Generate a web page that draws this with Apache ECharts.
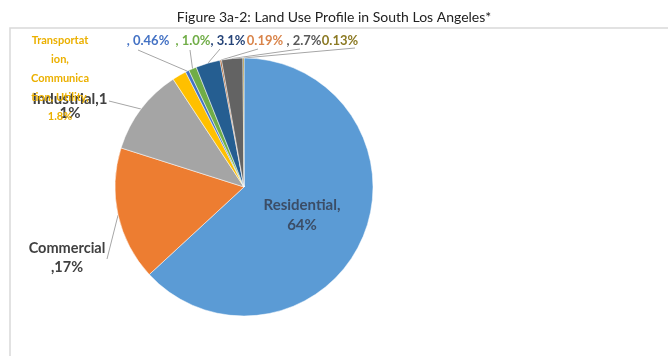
<!DOCTYPE html>
<html>
<head>
<meta charset="utf-8">
<script src="https://cdn.jsdelivr.net/npm/echarts@6/dist/echarts.min.js"></script>
<style>
  html, body { margin: 0; padding: 0; background: #fff; }
  #landUseDiv { width: 668px; height: 356px; }
</style>
</head>
<body>
<div id="landUseDiv"></div>
<script>
// land use shares, clockwise from 12 o'clock
const categories = ["Residential", "Commercial", "Industrial", "Transportation, Communication, Utility",
    "Other 1", "Other 2", "Other 3", "Other 4", "Other 5", "Other 6"];
const shares = [64, 17, 11, 1.8, 0.46, 1.0, 3.1, 0.19, 2.7, 0.13];
const labelTexts = ["Residential,\n64%", "Commercial\n,17%", "Industrial,1\n1%",
    "Transportat\nion,\nCommunica\ntion, Utility,\n1.8%",
    ", 0.46%", ", 1.0%", ", 3.1%", "0.19%", ", 2.7%", "0.13%"];

const sliceColors = ["#5B9BD5", "#ED7D31", "#A5A5A5", "#FFC000", "#4472C4",
    "#70AD47", "#255E91", "#9E480E", "#636363", "#997300"];
const textColors = ["#3b4d66", "#404040", "#404040", "#EBB000", "#4472C4",
    "#70AD47", "#264478", "#D9844A", "#595959", "#8C7A24"];
// label look and placement (centre of text, and where its leader starts)
const labelSize = [15, 14.5, 15, 11, 13, 13, 13, 13, 13, 13];
const labelLineH = [20, 19, 14, 19, 16, 16, 16, 16, 16, 16];
const labelPos = [[302, 215], [67, 258], [70, 106], [60, 78], [148, 41],
    [193, 41], [228, 41], [265, 41], [304, 41], [340, 41]];
const leaderStart = [null, [107, 259], [109, 101], null, [138, 50],
    [190, 50], [220, 49], [258, 49], [300, 49], [355, 48]];

let chart = echarts.init(document.getElementById("landUseDiv"));

let pieData = categories.map(function (name, i) {
    return {
        name: name,
        value: shares[i],
        itemStyle: { color: sliceColors[i] },
        label: { color: textColors[i], fontSize: labelSize[i], lineHeight: labelLineH[i] },
        labelLine: { show: leaderStart[i] !== null },
    };
});

let options = {
    animation: false,
    title: {
        text: "Figure 3a-2: Land Use Profile in South Los Angeles*",
        left: "center",
        top: 5,
        textStyle: {
            fontFamily: "Lato",
            fontWeight: "normal",
            fontSize: 14,
            color: "#222",
        },
    },
    graphic: [
        {
            type: "rect",
            shape: { x: 10, y: 28, width: 700, height: 400 },
            style: { fill: "none", stroke: "#d9d9d9", lineWidth: 1.5 },
            silent: true,
        },
    ],
    series: [
        {
            type: "pie",
            center: [244, 187],
            radius: 129,
            startAngle: 90,
            clockwise: true,
            data: pieData,
            itemStyle: { borderColor: "#fff", borderWidth: 0.5 },
            label: {
                show: true,
                formatter: function (p) {
                    return labelTexts[p.dataIndex];
                },
                fontFamily: "Lato",
                fontWeight: "bold",
                align: "center",
            },
            labelLine: {
                show: true,
                length: 10,
                length2: 10,
                lineStyle: { color: "#a6a6a6", width: 1 },
            },
            labelLayout: function (params) {
                let i = params.dataIndex;
                let p = labelPos[i];
                let out = { x: p[0], y: p[1], align: "center", verticalAlign: "middle" };
                if (leaderStart[i] && params.labelLinePoints) {
                    out.labelLinePoints = [params.labelLinePoints[0], params.labelLinePoints[0], leaderStart[i]];
                }
                return out;
            },
        },
    ],
};
chart.setOption(options);
</script>
</body>
</html>
